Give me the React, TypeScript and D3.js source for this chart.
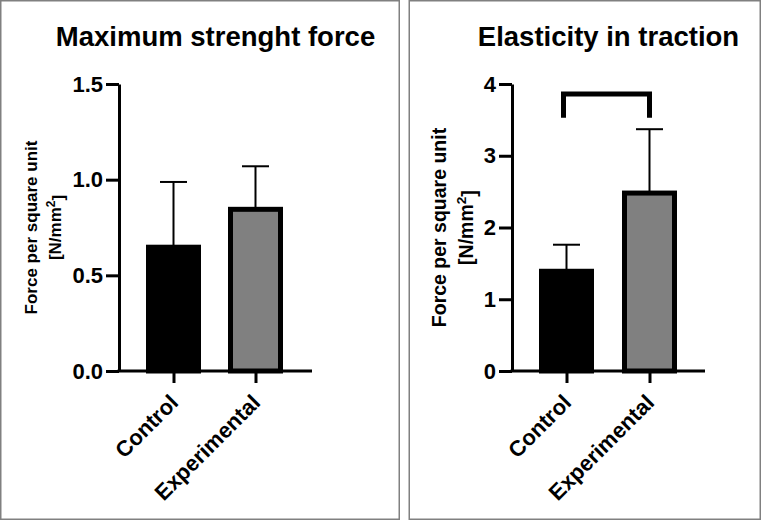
import { useRef, useEffect } from 'react';
import * as d3 from 'd3';

const categories = ['Control', 'Experimental'];

const strengthMeans = [0.647, 0.845];
const strengthSd = [0.341, 0.225];
const strengthTicks = [0, 0.5, 1.0, 1.5];

const elasticityMeans = [1.39, 2.48];
const elasticitySd = [0.37, 0.89];
const elasticityTicks = [0, 1, 2, 3, 4];
const elasticityBracket = [3.53, 3.86];

const FONT = 'Liberation Sans, Arial, Helvetica, sans-serif';

interface PanelSpec {
  title: string;
  means: number[];
  sd: number[];
  ticks: number[];
  tickFormat: (d: number) => string;
  bracket?: number[];
  box: [number, number, number, number];
  titleX: number;
  axisX: number;
  xEnd: number;
  centers: [number, number];
  labelSize: number;
  labelX: [number, number];
}

const panels: PanelSpec[] = [
  {
    title: 'Maximum strenght force',
    means: strengthMeans,
    sd: strengthSd,
    ticks: strengthTicks,
    tickFormat: d => d.toFixed(1),
    box: [0.75, 0.75, 398.5, 518.5],
    titleX: 215.5,
    axisX: 119,
    xEnd: 312,
    centers: [173.5, 255.5],
    labelSize: 17,
    labelX: [37, 61],
  },
  {
    title: 'Elasticity in traction',
    means: elasticityMeans,
    sd: elasticitySd,
    ticks: elasticityTicks,
    tickFormat: d => d3.format('d')(d),
    bracket: elasticityBracket,
    box: [409.25, 0.75, 351, 518.5],
    titleX: 608.5,
    axisX: 512,
    xEnd: 705,
    centers: [566.5, 649.5],
    labelSize: 19.5,
    labelX: [446, 473],
  },
];

const Y0 = 371;
const YTOP = 84;

export default function App() {
  const svgRef = useRef<SVGSVGElement>(null);

  useEffect(() => {
    if (!svgRef.current) return;
    const svg = d3.select(svgRef.current);
    svg.selectAll('*').remove();

    svg.append('rect').attr('width', 762).attr('height', 521).attr('fill', '#fff');

    panels.forEach(p => {
      const g = svg.append('g');

      // frame
      g.append('rect')
        .attr('x', p.box[0])
        .attr('y', p.box[1])
        .attr('width', p.box[2])
        .attr('height', p.box[3])
        .attr('fill', '#fff')
        .attr('stroke', '#808080')
        .attr('stroke-width', 1.5);

      const yScale = d3.scaleLinear()
        .domain([0, p.ticks[p.ticks.length - 1]])
        .range([Y0, YTOP]);

      const xScale = d3.scalePoint<string>()
        .domain(categories)
        .range(p.centers);

      // title
      g.append('text')
        .attr('x', p.titleX)
        .attr('y', 46)
        .attr('text-anchor', 'middle')
        .attr('font-family', FONT)
        .attr('font-weight', 'bold')
        .attr('font-size', 27.5)
        .attr('fill', '#000')
        .text(p.title);

      // bars
      const barW = 50;
      categories.forEach((c, i) => {
        const cx = xScale(c) as number;
        const top = yScale(p.means[i]);
        const errTop = yScale(p.means[i] + p.sd[i]);

        // error bar (upper only)
        g.append('line')
          .attr('x1', cx).attr('x2', cx)
          .attr('y1', top).attr('y2', errTop)
          .attr('stroke', '#000').attr('stroke-width', 2);
        g.append('line')
          .attr('x1', cx - 13.5).attr('x2', cx + 13.5)
          .attr('y1', errTop).attr('y2', errTop)
          .attr('stroke', '#000').attr('stroke-width', 2);

        g.append('rect')
          .attr('x', cx - barW / 2)
          .attr('y', top)
          .attr('width', barW)
          .attr('height', Y0 - top)
          .attr('fill', i === 0 ? '#000' : '#808080')
          .attr('stroke', '#000')
          .attr('stroke-width', 5);
      });

      // significance bracket
      if (p.bracket) {
        const [lo, hi] = p.bracket;
        const x1 = (xScale(categories[0]) as number) - 3;
        const x2 = xScale(categories[1]) as number;
        g.append('path')
          .attr('d', `M${x1},${yScale(lo)}V${yScale(hi)}H${x2}V${yScale(lo)}`)
          .attr('fill', 'none')
          .attr('stroke', '#000')
          .attr('stroke-width', 5);
      }

      // y axis
      const yAxis = g.append('g')
        .attr('transform', `translate(${p.axisX},0)`)
        .call(d3.axisLeft(yScale)
          .tickValues(p.ticks)
          .tickSize(13)
          .tickSizeOuter(0)
          .tickPadding(3)
          .tickFormat(d => p.tickFormat(d as number)));
      yAxis.select('.domain').attr('stroke', '#000').attr('stroke-width', 3);
      yAxis.selectAll('.tick line').attr('stroke', '#000').attr('stroke-width', 3);
      yAxis.selectAll('.tick text')
        .attr('font-family', FONT)
        .attr('font-weight', 'bold')
        .attr('font-size', 22)
        .attr('fill', '#000');

      // x axis
      g.append('line')
        .attr('x1', p.axisX - 1.5).attr('x2', p.xEnd)
        .attr('y1', Y0).attr('y2', Y0)
        .attr('stroke', '#000').attr('stroke-width', 3);
      const xAxis = g.append('g')
        .attr('transform', `translate(0,${Y0})`)
        .call(d3.axisBottom(xScale).tickSize(12).tickFormat(() => ''));
      xAxis.select('.domain').remove();
      xAxis.selectAll('.tick line').attr('stroke', '#000').attr('stroke-width', 3);

      categories.forEach(c => {
        const cx = xScale(c) as number;
        g.append('text')
          .attr('transform', `translate(${cx + 6},${Y0 + 33}) rotate(-45)`)
          .attr('text-anchor', 'end')
          .attr('font-family', FONT)
          .attr('font-weight', 'bold')
          .attr('font-size', 22)
          .attr('fill', '#000')
          .text(c);
      });

      // y label, two lines
      const midY = (Y0 + YTOP) / 2;
      g.append('text')
        .attr('transform', `translate(${p.labelX[0]},${midY}) rotate(-90)`)
        .attr('text-anchor', 'middle')
        .attr('font-family', FONT)
        .attr('font-weight', 'bold')
        .attr('font-size', p.labelSize)
        .attr('fill', '#000')
        .text('Force per square unit');
      const unit = g.append('text')
        .attr('transform', `translate(${p.labelX[1]},${midY}) rotate(-90)`)
        .attr('text-anchor', 'middle')
        .attr('font-family', FONT)
        .attr('font-weight', 'bold')
        .attr('font-size', p.labelSize)
        .attr('fill', '#000');
      unit.append('tspan').text('[N/mm');
      unit.append('tspan').attr('dy', '-0.5em').attr('font-size', p.labelSize * 0.7).text('2');
      unit.append('tspan').attr('dy', '0.5em').text(']');
    });
  }, []);

  return (
    <svg
      ref={svgRef}
      width={762}
      height={521}
      style={{ position: 'absolute', left: 0, top: 0 }}
    />
  );
}
